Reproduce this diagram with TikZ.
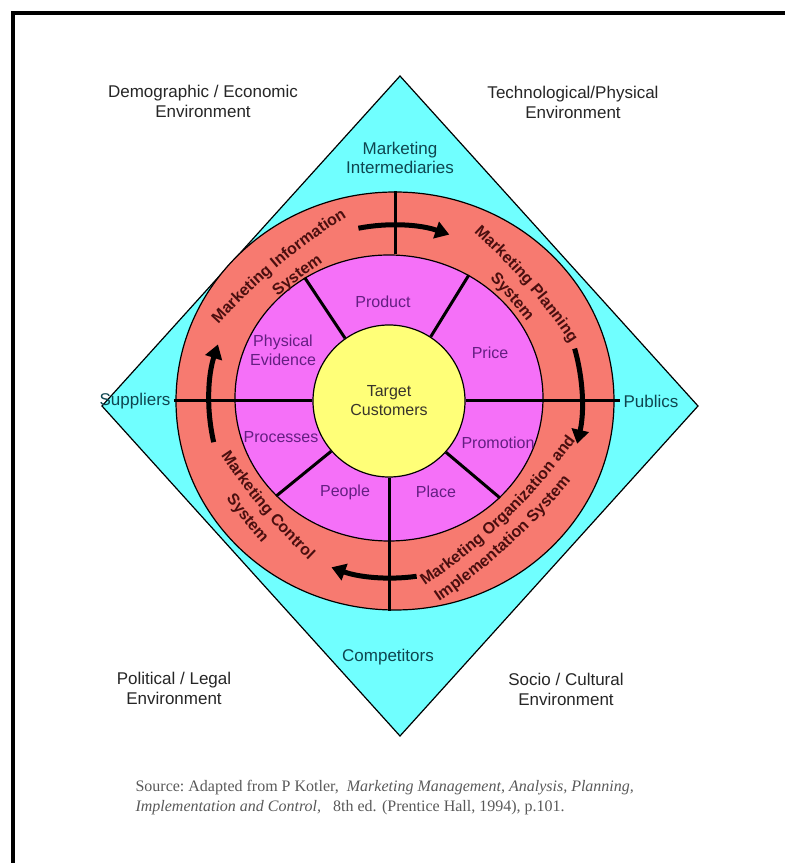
\documentclass[tikz,border=0pt]{standalone}
\usepackage{fontspec}
\setmainfont{Liberation Sans}
\newfontfamily\srcfont{Liberation Serif}
\usetikzlibrary{arrows.meta, shapes.geometric, decorations.text}

\definecolor{envcyan}{RGB}{112,255,255}
\definecolor{ringred}{RGB}{247,122,112}
\definecolor{mixpink}{RGB}{245,112,248}
\definecolor{coreyellow}{RGB}{255,255,120}
\definecolor{ringink}{RGB}{75,15,15}
\definecolor{mixink}{RGB}{100,30,130}
\definecolor{envink}{RGB}{15,70,80}

\begin{document}
\begin{tikzpicture}[x=1pt, y=1pt,
    envlabel/.style={align=center, font=\fontsize{17}{20}\selectfont, text=black!85},
    sidelabel/.style={align=center, font=\fontsize{17}{19}\selectfont, text=envink},
    mixlabel/.style={align=center, font=\fontsize{16}{19}\selectfont, text=mixink},
    ringlabel/.style={decorate, decoration={text along path, text align=center,
        text color=ringink, text={|\fontsize{16}{16}\selectfont\bfseries|#1}}},
    divider/.style={line width=3pt},
    flow/.style={line width=5pt, -{Triangle[length=14pt, width=17pt]}}]
    \useasboundingbox (0,0) rectangle (785,863);

    % frame
    \draw[line width=4pt] (13,0) -- (13,850) -- (785,850);

    % environment diamond
    \coordinate (L) at (102,457);
    \coordinate (T) at (400,787);
    \coordinate (R) at (698,457);
    \coordinate (B) at (400,127);
    \filldraw[fill=envcyan, line width=1.2pt] (L) -- (T) -- (R) -- (B) -- cycle;

    % rings
    \node[ellipse, draw, line width=1.2pt, fill=ringred, minimum width=438, minimum height=418] (ring) at (395,462) {};
    \node[ellipse, draw, line width=1.2pt, fill=mixpink, minimum width=308, minimum height=286] (mix) at (389,465) {};
    \coordinate (O) at (392,462);

    % side labels
    \node[sidelabel] (mi) at (400,705) {Marketing\\Intermediaries};
    \node[sidelabel] (sup) at (135,462) {Suppliers};
    \node[sidelabel] (pub) at (651,462) {Publics};
    \node[sidelabel] (comp) at (388,206) {Competitors};

    % target customers
    \node[circle, draw, line width=1.2pt, fill=coreyellow, minimum size=152, inner sep=0pt,
        align=center, font=\fontsize{16}{19}\selectfont, text=black!80!olive] (target) at (389,462) {Target\\Customers};

    % dividers
    \draw[divider] (sup.east) -- (target.west);
    \draw[divider] (target.east) -- (pub.west);
    \draw[divider] (ring.north) -- (ring.north |- mix.north);
    \draw[divider] (target.south) -- (target.south |- ring.south);
    \foreach \a in {125, 57, 221, 318}
        \draw[divider] (target.\a) -- (mix.\a);

    % marketing mix
    \node[mixlabel] (product) at (383,561) {Product};
    \node[mixlabel] (evidence) at (283,513) {Physical\\Evidence};
    \node[mixlabel] (price) at (490,510) {Price};
    \node[mixlabel] (processes) at (281,426) {Processes};
    \node[mixlabel] (promotion) at (498,420) {Promotion};
    \node[mixlabel] (people) at (345,371) {People};
    \node[mixlabel] (place) at (436,371) {Place};

    % ring systems (flat arcs of radius 600)
    \path[ringlabel={Marketing Information}] (O) ++(310:424) ++(143:600) arc[start angle=143, end angle=117, radius=600];
    \path[ringlabel={System}] (O) ++(307:447) ++(140:600) arc[start angle=140, end angle=114, radius=600];
    \path[ringlabel={Marketing Planning}] (O) ++(221:423) ++(54:600) arc[start angle=54, end angle=28, radius=600];
    \path[ringlabel={System}] (O) ++(221:445) ++(54:600) arc[start angle=54, end angle=28, radius=600];
    \path[ringlabel={Marketing Organization and}] (O) ++(134:435) ++(-59:600) arc[start angle=-59, end angle=-33, radius=600];
    \path[ringlabel={Implementation System}] (O) ++(134:435) ++(-60:621) arc[start angle=-60, end angle=-35, radius=621];
    \path[ringlabel={Marketing Control}] (O) ++(40:430) ++(207:600) arc[start angle=207, end angle=233, radius=600];
    \path[ringlabel={System}] (O) ++(39:409) ++(206:600) arc[start angle=206, end angle=232, radius=600];

    % cycle arrows
    \draw[flow] (O) ++(101:176) arc[start angle=101, end angle=71, radius=176];
    \draw[flow] (O) ++(16:190) arc[start angle=16, end angle=-13, radius=190];
    \draw[flow] (O) ++(-82:177) arc[start angle=-82, end angle=-110, radius=177];
    \draw[flow] (O) ++(193:183) arc[start angle=193, end angle=162, radius=183];

    % environments
    \node[envlabel] (demo) at (203,762) {Demographic / Economic\\Environment};
    \node[envlabel] (tech) at (573,761) {Technological/Physical\\Environment};
    \node[envlabel] (pol) at (174,175) {Political / Legal\\Environment};
    \node[envlabel] (socio) at (566,174) {Socio / Cultural\\Environment};

    % source
    \node[anchor=west, align=left, text=black!65, font=\srcfont\fontsize{16}{20}\selectfont] (src) at (132,65)
        {Source:\ Adapted from P Kotler,\ \ \textit{Marketing Management, Analysis, Planning,}\\
         \textit{Implementation and Control,}\ \ \ 8th ed. (Prentice Hall, 1994), p.101.};
\end{tikzpicture}
\end{document}
